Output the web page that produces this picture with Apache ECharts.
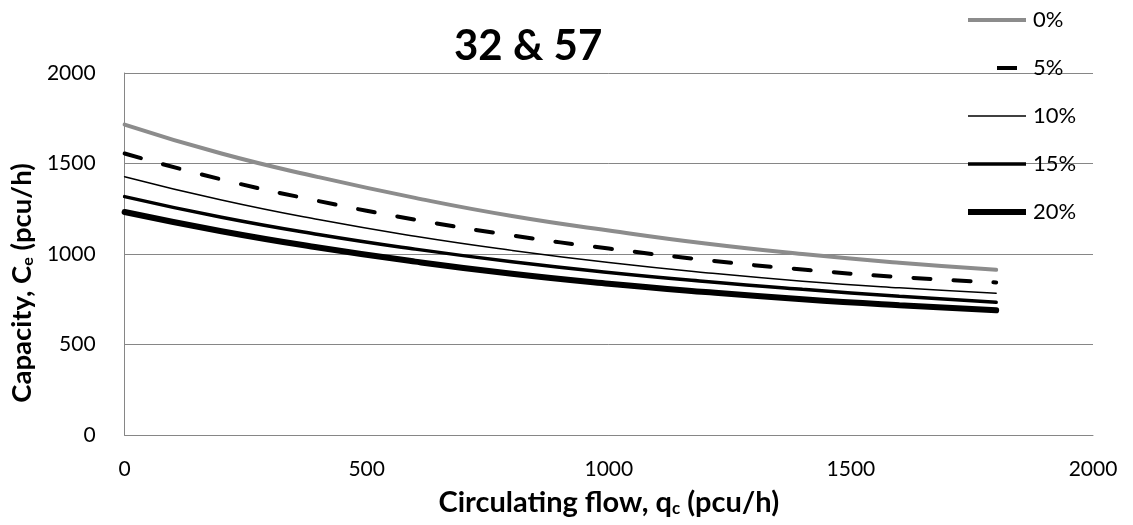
<!DOCTYPE html>
<html>
<head>
<meta charset="utf-8">
<script src="https://cdn.jsdelivr.net/npm/echarts@6/dist/echarts.min.js"></script>
<style>
  html, body { margin: 0; padding: 0; background: #fff; }
  #chart { width: 1133px; height: 525px; }
</style>
</head>
<body>
<div id="chart"></div>
<script>
// circulating flow (pcu/h) and capacity readings for each share
const flow = [0, 200, 400, 600, 800, 1000, 1200, 1400, 1600, 1800];
const cap0 = [1715, 1555, 1425, 1310, 1210, 1130, 1058, 1000, 952, 913];
const cap5 = [1555, 1412, 1293, 1190, 1103, 1030, 967, 914, 873, 843];
const cap10 = [1427, 1298, 1190, 1098, 1020, 953, 897, 850, 813, 783];
const cap15 = [1317, 1203, 1108, 1027, 957, 898, 848, 805, 767, 733];
const cap20 = [1232, 1126, 1036, 958, 891, 836, 790, 750, 717, 689];
const seriesNames = ['0%', '5%', '10%', '15%', '20%'];

const pairs = (vals) => flow.map((q, i) => [q, vals[i]]);

const styles = [
  { color: '#8c8c8c', width: 4, type: 'solid' },
  { color: '#000', width: 4, type: [17, 23] },
  { color: '#000', width: 1.5, type: 'solid' },
  { color: '#000', width: 3.5, type: 'solid' },
  { color: '#000', width: 6, type: 'solid' },
];

const allData = [cap0, cap5, cap10, cap15, cap20];

const chart = echarts.init(document.getElementById('chart'));

const subStyle = (size, pad) => ({
  fontFamily: 'Lato', fontWeight: 'bold', fontSize: size, color: '#000', verticalAlign: 'bottom', padding: [pad, 0, 0, 0],
});

// legend sample for the dashed series: one dash in the middle, like the original
const legendLine = (i) => {
  if (i === 1) {
    return { width: 4, type: [0, 29, 20, 100], color: '#000', cap: 'butt' };
  }
  return { width: styles[i].width, type: styles[i].type, color: styles[i].color, cap: 'butt' };
};

const option = {
  animation: false,
  backgroundColor: '#fff',
  textStyle: { fontFamily: 'Lato' },
  title: {
    text: '32 & 57',
    left: 449,
    top: 20,
    textStyle: { fontFamily: 'Lato', fontWeight: 'bold', fontSize: 42, color: '#000' },
  },
  legend: {
    orient: 'vertical',
    left: 965,
    top: 9,
    padding: 0,
    itemWidth: 58,
    itemHeight: 24,
    itemGap: 26,
    data: seriesNames.map((name, i) => ({
      name: name,
      itemStyle: { opacity: 0 },
      lineStyle: legendLine(i),
    })),
    textStyle: { fontFamily: 'Lato', fontSize: 22, color: '#000', padding: [0, 0, 0, 2] },
  },
  grid: { left: 121, right: 40, top: 73, bottom: 90 },
  xAxis: {
    type: 'value',
    min: 0,
    max: 2000,
    interval: 500,
    name: 'Circulating flow, q{sub|c} (pcu/h)',
    nameLocation: 'middle',
    nameGap: 53,
    nameTextStyle: {
      fontFamily: 'Lato', fontWeight: 'bold', fontSize: 29, color: '#000',
      rich: { sub: subStyle(17, 11) },
    },
    axisLine: { show: true, lineStyle: { color: '#868686', width: 1 } },
    axisTick: { show: false },
    axisLabel: { margin: 24, fontFamily: 'Lato', fontSize: 21, color: '#000', formatter: (v) => String(v) },
    splitLine: { show: false },
  },
  yAxis: {
    type: 'value',
    min: 0,
    max: 2000,
    interval: 500,
    name: 'Capacity, C{sub|e} (pcu/h)',
    nameLocation: 'middle',
    nameGap: 88,
    nameTextStyle: {
      fontFamily: 'Lato', fontWeight: 'bold', fontSize: 27.5, color: '#000',
      padding: [0, 58, 0, 0],
      rich: { sub: subStyle(16, 10) },
    },
    axisLine: { show: true, lineStyle: { color: '#868686', width: 1 } },
    axisTick: { show: false },
    axisLabel: { margin: 29, fontFamily: 'Lato', fontSize: 21, color: '#000', formatter: (v) => String(v) },
    splitLine: { show: true, lineStyle: { color: '#868686', width: 1 } },
  },
  series: seriesNames.map((name, i) => ({
    name: name,
    type: 'line',
    smooth: true,
    symbol: 'none',
    z: 10 - i,
    lineStyle: { color: styles[i].color, width: styles[i].width, type: styles[i].type, cap: 'round' },
    itemStyle: { color: styles[i].color },
    data: pairs(allData[i]),
  })),
};

chart.setOption(option);
</script>
</body>
</html>
